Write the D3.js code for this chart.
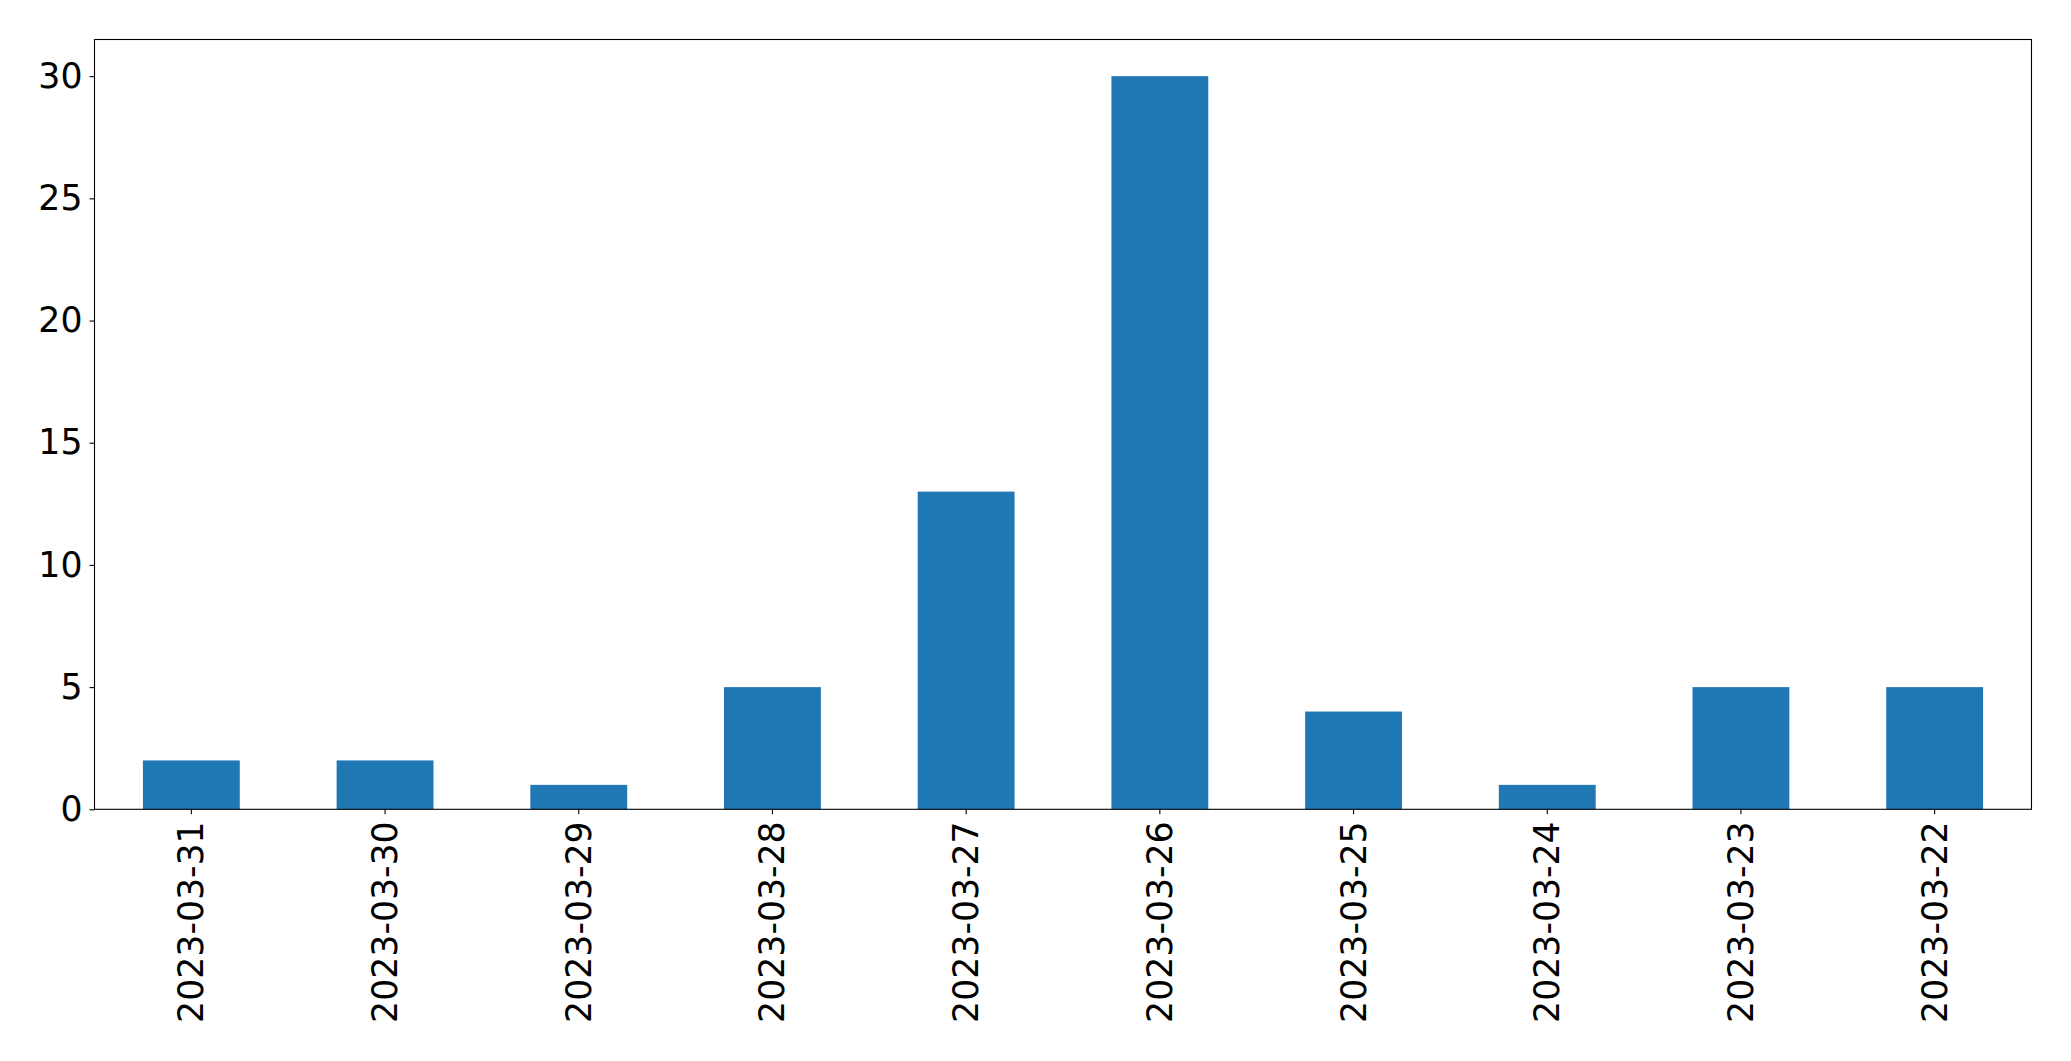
<!DOCTYPE html>
<html>
<head>
<meta charset="utf-8">
<script src="https://cdn.jsdelivr.net/npm/d3@7"></script>
<style>
  html, body { margin: 0; padding: 0; background: #fff; }
  svg { display: block; }
  text { font-family: "DejaVu Sans", sans-serif; fill: #000; }
</style>
</head>
<body>
<svg id="chart" width="2071" height="1061"></svg>
<script>
const categories = ["2023-03-31","2023-03-30","2023-03-29","2023-03-28","2023-03-27","2023-03-26","2023-03-25","2023-03-24","2023-03-23","2023-03-22"];
const values = [2, 2, 1, 5, 13, 30, 4, 1, 5, 5];
const yTicks = [0, 5, 10, 15, 20, 25, 30];

const W = 2071, H = 1061;
const margin = { left: 94.5, right: W - 2031.5, top: 39.5, bottom: H - 809.3 };
const svg = d3.select("#chart");
const iw = W - margin.left - margin.right;
const ih = H - margin.top - margin.bottom;
const g = svg.append("g").attr("transform", `translate(${margin.left},${margin.top})`);

const x = d3.scaleBand().domain(categories).range([0, iw]).paddingInner(0.5).paddingOuter(0.25);
const y = d3.scaleLinear().domain([0, 31.5]).range([ih, 0]);

g.selectAll("rect.bar").data(values).join("rect")
  .attr("class", "bar")
  .attr("x", (d, i) => x(categories[i]))
  .attr("width", x.bandwidth())
  .attr("y", d => y(d))
  .attr("height", d => y(0) - y(d))
  .attr("fill", "#1f77b4");

const fs = 34.7;
const yAxis = g.append("g").call(d3.axisLeft(y).tickValues(yTicks).tickSize(5).tickPadding(7).tickFormat(d3.format("d")));
yAxis.select(".domain").remove();
yAxis.selectAll("line").attr("stroke", "#000").attr("stroke-width", 1.1);
yAxis.selectAll("text").style("font-size", fs + "px").attr("font-family", "DejaVu Sans");

const xAxis = g.append("g").attr("transform", `translate(0,${ih})`)
  .call(d3.axisBottom(x).tickSize(5).tickPadding(7));
xAxis.select(".domain").remove();
xAxis.selectAll("line").attr("stroke", "#000").attr("stroke-width", 1.1);
xAxis.selectAll("text")
  .style("font-size", fs + "px")
  .attr("font-family", "DejaVu Sans")
  .attr("text-anchor", "end")
  .attr("dy", null)
  .attr("dominant-baseline", "central")
  .attr("transform", "rotate(-90)")
  .attr("x", -12)
  .attr("y", 0);

g.append("rect")
  .attr("x", 0).attr("y", 0).attr("width", iw).attr("height", ih)
  .attr("fill", "none").attr("stroke", "#000").attr("stroke-width", 1.1);
</script>
</body>
</html>
